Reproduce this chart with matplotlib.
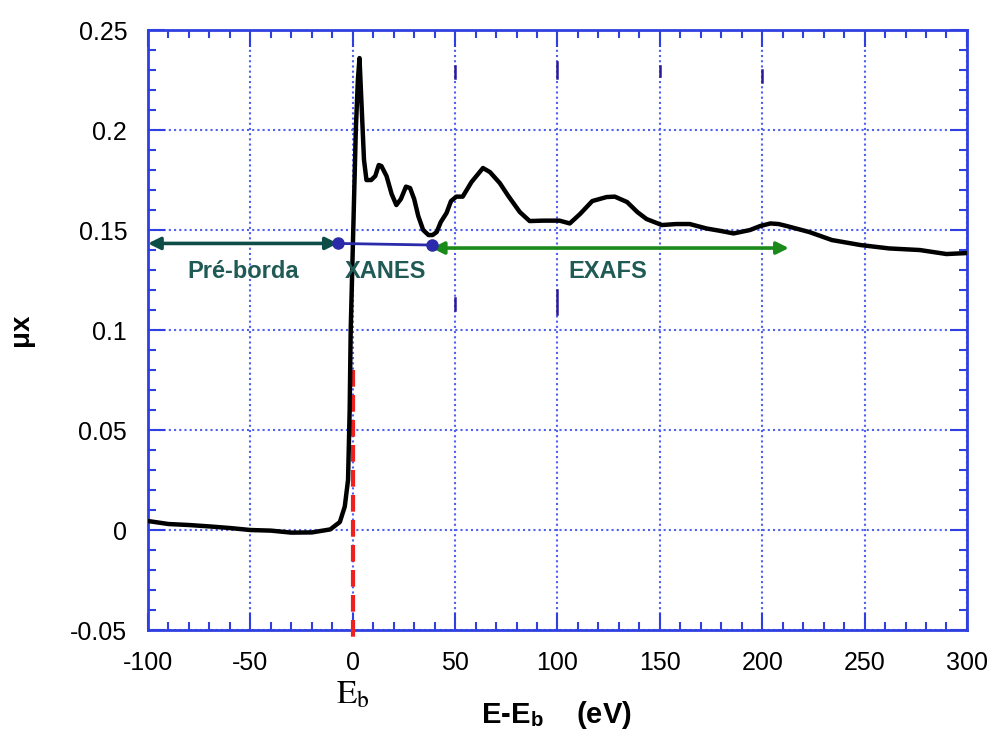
import matplotlib
matplotlib.use('Agg')
import matplotlib.pyplot as plt
from matplotlib.ticker import MultipleLocator

plt.rcParams['font.family'] = ['Liberation Sans', 'DejaVu Sans']
plt.rcParams['mathtext.fontset'] = 'stix'
plt.rcParams['axes.unicode_minus'] = False

# absorption spectrum
energy = [-100, -90, -80, -70, -60, -50, -40, -30, -20, -11, -6.3, -3.9, -2.3, -1.5, -1,
          0, 0.5, 1.5, 2.5, 3.3, 4.2, 5.5, 6.7, 9, 11, 12.7, 14, 16.5, 19, 21.3, 23.5,
          26, 28, 30, 32, 34.4, 37, 39, 41, 43, 45.8, 48, 50.6, 53.7, 58, 63.6, 67,
          71.8, 76, 81.6, 86.4, 93, 101, 106, 111, 117, 124, 128, 134, 139, 143.5,
          151, 158, 164.6, 172.7, 180, 186, 194, 199, 204, 208, 212, 223, 234, 248,
          262, 277, 290, 300]
mu = [0.0045, 0.003, 0.0025, 0.0018, 0.001, 0.0, -0.0003, -0.0013, -0.0012, 0.0003, 0.004,
      0.0117, 0.025, 0.06, 0.1, 0.14, 0.16, 0.2, 0.225, 0.236, 0.215, 0.185, 0.175,
      0.175, 0.177, 0.1825, 0.182, 0.177, 0.168, 0.1625, 0.1655, 0.1717, 0.171, 0.1655,
      0.157, 0.150, 0.1475, 0.1475, 0.149, 0.154, 0.1585, 0.1645, 0.1667, 0.1667,
      0.174, 0.181, 0.179, 0.1735, 0.167, 0.159, 0.1545, 0.1547, 0.1547, 0.1533,
      0.158, 0.1645, 0.1665, 0.1667, 0.164, 0.159, 0.1555, 0.1525, 0.153, 0.153,
      0.1508, 0.1495, 0.1483, 0.150, 0.152, 0.1533, 0.153, 0.152, 0.149, 0.145,
      0.1425, 0.1408, 0.140, 0.138, 0.1385]

# region markers
pre_edge = [-100, -7.3]
xanes = [-7.3, 38.6]
exafs = [38.6, 213]
marker_y = [0.1433, 0.1425, 0.141]
region_labels = ['Pré-borda', 'XANES', 'EXAFS']
label_x = [-53.7, 16, 124.5]
label_y = 0.1295

blue = '#3040e0'
teal = '#0d4d47'
green = '#1a8a1a'

fig = plt.figure(figsize=(9.94, 7.33), dpi=100)
ax = fig.add_axes([0.1489, 0.1405, 0.8239, 0.8185])

ax.plot(energy, mu, color='black', lw=3.2, solid_joinstyle='round', zorder=4)

# edge position
ax.plot([0, 0], [0.08, -0.056], color='#ee2020', lw=3, ls=(0, (4, 2)),
        clip_on=False, zorder=3)

# arrows for the three regions
ax.annotate('', xy=(pre_edge[0], marker_y[0]), xytext=(pre_edge[1], marker_y[0]),
            arrowprops=dict(arrowstyle='<|-|>', color=teal, lw=2.6,
                            mutation_scale=18, shrinkA=0, shrinkB=0), zorder=5)
ax.plot(xanes, [marker_y[0], marker_y[1]], color='#2a2aaa', lw=2, zorder=5)
ax.plot(xanes, [marker_y[0], marker_y[1]], 'o', color='#2a2aaa', ms=8, zorder=6)
ax.annotate('', xy=(exafs[1], marker_y[2]), xytext=(exafs[0], marker_y[2]),
            arrowprops=dict(arrowstyle='<|-|>', color=green, lw=2.6,
                            mutation_scale=18, shrinkA=0, shrinkB=0), zorder=5)

for name, lx in zip(region_labels, label_x):
    ax.text(lx, label_y, name, color='#1f5a55', fontsize=17, fontweight='bold',
            ha='center', va='center', zorder=6)

# little scan artefacts on the grid lines
for gx, y0, y1 in [(50, 0.226, 0.232), (100, 0.226, 0.234), (150, 0.227, 0.232),
                   (200, 0.224, 0.230), (50, 0.110, 0.116), (100, 0.108, 0.120)]:
    ax.plot([gx, gx], [y0, y1], color='#2a1a9a', lw=1.8, zorder=2)

ax.set_xlim(-100, 300)
ax.set_ylim(-0.05, 0.25)
ax.xaxis.set_major_locator(MultipleLocator(50))
ax.xaxis.set_minor_locator(MultipleLocator(10))
ax.yaxis.set_major_locator(MultipleLocator(0.05))
ax.yaxis.set_minor_locator(MultipleLocator(0.01))
ax.set_yticks([-0.05, 0, 0.05, 0.1, 0.15, 0.2, 0.25])
ax.set_yticklabels(['-0.05', '0', '0.05', '0.1', '0.15', '0.2', '0.25'])

ax.grid(True, which='major', color='#5060f0', ls=(0, (1, 1.5)), lw=1.5)
for sp in ax.spines.values():
    sp.set_color(blue)
    sp.set_linewidth(2)
ax.tick_params(which='both', direction='in', top=True, right=True, color=blue,
               labelsize=18, pad=15)
ax.tick_params(which='major', length=12, width=1.5)
ax.tick_params(which='minor', length=6, width=1.5)

ax.set_ylabel('μx', fontsize=20, fontweight='bold', labelpad=26)
ax.text(0, -0.0825, r'$\mathrm{E}_\mathrm{b}$', fontsize=24, ha='center', va='center')
fig.text(0.56, 0.003, r'E-E$_\mathregular{b}$    (eV)', fontsize=21, fontweight='bold',
         ha='center', va='bottom')

fig.savefig('out.png', dpi=100)
